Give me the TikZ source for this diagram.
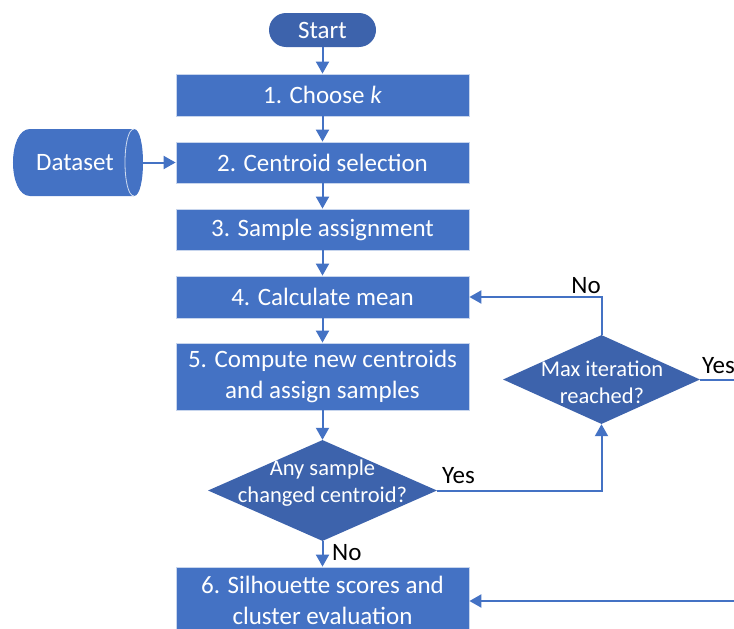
\documentclass[tikz,border=0pt]{standalone}
\usepackage{fontspec}
\setmainfont{Carlito}
\usetikzlibrary{arrows.meta,shapes.geometric}
\definecolor{boxblue}{HTML}{4472C4}
\definecolor{darkblue}{HTML}{3D63AC}
\definecolor{lineblue}{HTML}{4472C4}
\tikzset{
  procbox/.style={rectangle, fill=boxblue, draw=white!70!boxblue, line width=0.8pt,
    text=white, font=\fontsize{25}{31}\selectfont, minimum width=293pt, inner sep=0pt, align=center},
  decbox/.style={diamond, fill=darkblue, draw=none, inner sep=0pt},
  dectext/.style={text=white, font=\fontsize{22.5}{27}\selectfont, align=center, inner sep=0pt},
  lbl/.style={text=black, font=\fontsize{25}{30}\selectfont, inner sep=0pt},
  conn/.style={draw=lineblue, line width=2pt, -{Triangle[length=12pt,width=13pt]}},
  plain/.style={draw=lineblue, line width=2pt}
}
\begin{document}
\begin{tikzpicture}[x=1pt,y=-1pt]
\useasboundingbox (0,0) rectangle (734,629);
\clip (0,0) rectangle (734,629);
% start
\node[rectangle, rounded corners=17pt, fill=darkblue, text=white, minimum width=107pt,
  minimum height=34pt, inner sep=0pt, font=\fontsize{25}{30}\selectfont] (start) at (322.5,30) {Start};
% process boxes
\node[procbox, minimum height=42pt] (b1) at (322.5,95) {1. Choose \textit{k}};
\node[procbox, minimum height=41pt] (b2) at (322.5,162.5) {2. Centroid selection};
\node[procbox, minimum height=41pt] (b3) at (322.5,229.5) {3. Sample assignment};
\node[procbox, minimum height=42pt] (b4) at (322.5,297) {4. Calculate mean};
\node[procbox, minimum height=67pt] (b5) at (322.5,376.5) {5. Compute new centroids\\and assign samples};
\node[procbox, minimum height=67pt] (b6) at (322.5,600.5) {6. Silhouette scores and\\cluster evaluation};
% dataset cylinder
\fill[boxblue] (30,129) -- (134,129) .. controls (146,129) and (146,196) .. (134,196)
  -- (30,196) .. controls (7.33,196) and (7.33,129) .. (30,129) -- cycle;
\draw[white!75!boxblue, line width=0.8pt] (134,129) .. controls (122,129) and (122,196) .. (134,196);
\node[text=white, font=\fontsize{25}{30}\selectfont, minimum width=136pt, minimum height=67pt,
  inner sep=0pt] (data) at (75,162.5) {Dataset};
% decisions
\node[decbox, minimum width=229pt, minimum height=101pt] (d1) at (322.5,490.5) {};
\node[dectext] (d1t) at (322.5,483.5) {Any sample\\changed centroid?};
\node[decbox, minimum width=197pt, minimum height=89pt] (d2) at (601.5,379.5) {};
\node[dectext] (d2t) at (602,382) {Max iteration\\reached?};
% coordinates off the right edge
\coordinate (r1) at (745,379.5);
\coordinate (r2) at (745,601);
% connectors
\draw[conn] (start) -- (b1);
\draw[conn] (b1) -- (b2);
\draw[conn] (b2) -- (b3);
\draw[conn] (b3) -- (b4);
\draw[conn] (b4) -- (b5);
\draw[conn] (b5) -- (d1);
\draw[conn] (d1) -- (b6);
\draw[conn] (data.east) -- (b2.west);
\draw[conn] (d1.east) -| (d2.south);
\draw[conn] (d2.north) |- (b4.east);
\draw[plain] (d2.east) -- (r1);
\draw[conn] (r2) -- (b6.east |- r2);
% labels
\node[lbl, anchor=base west] (yes1) at (442,483) {Yes};
\node[lbl, anchor=base west] (no1) at (332,560) {No};
\node[lbl, anchor=base east] (no2) at (601,293) {No};
\node[lbl, anchor=base west] (yes2) at (702,373) {Yes};
\end{tikzpicture}
\end{document}
